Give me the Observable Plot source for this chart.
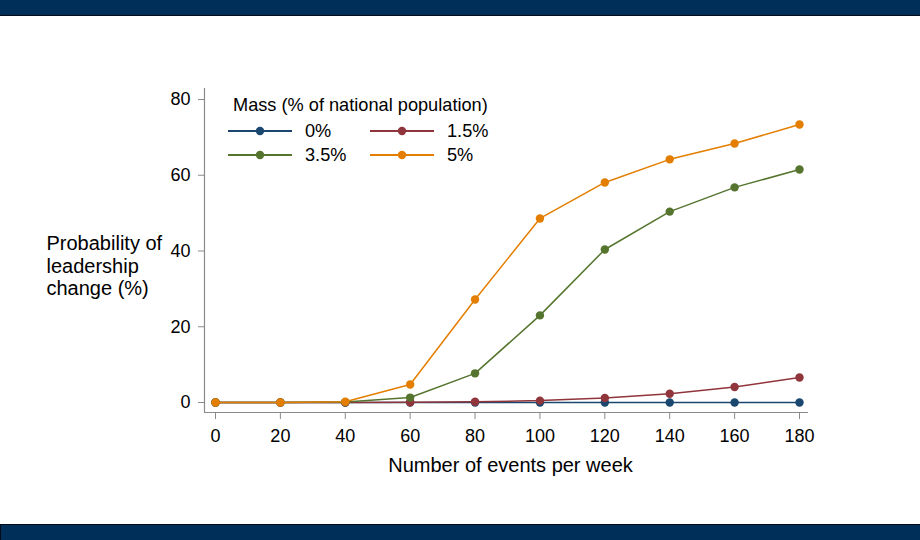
<!DOCTYPE html>
<html>
<head>
<meta charset="utf-8">
<script src="https://cdn.jsdelivr.net/npm/d3@7"></script>
<script src="https://cdn.jsdelivr.net/npm/@observablehq/plot@0.6"></script>
<style>
  html, body { margin: 0; padding: 0; background: #fff; }
  body { width: 920px; height: 540px; position: relative; overflow: hidden; font-family: "Liberation Sans", Arial, sans-serif; }
  .bar-top { position: absolute; left: 0; top: 0; width: 920px; height: 15px; background: #00305a; border-bottom: 1px solid #000c1a; }
  .bar-bottom { position: absolute; left: 0; top: 524px; width: 919px; height: 16px; background: #00305a; border-top: 1px solid #000c1a; border-left: 1px solid #000c1a; }
  #chart { position: absolute; left: 0; top: 0; }
</style>
</head>
<body>
<div class="bar-top"></div>
<div class="bar-bottom"></div>
<div id="chart"></div>
<script>
// ---- data ----
const events = [0, 20, 40, 60, 80, 100, 120, 140, 160, 180];
const seriesNames = ["0%", "1.5%", "3.5%", "5%"];
const seriesColors = ["#1a476f", "#90353b", "#55752f", "#e37e00"];
const mass0  = [0, 0, 0, 0, 0, 0, 0, 0, 0, 0];
const mass15 = [0, 0, 0, 0.05, 0.2, 0.5, 1.2, 2.3, 4.1, 6.6];
const mass35 = [0, 0, 0.1, 1.3, 7.7, 23.0, 40.4, 50.4, 56.8, 61.5];
const mass5  = [0, 0, 0.2, 4.75, 27.2, 48.6, 58.1, 64.2, 68.4, 73.4];
const xTicks = [0, 20, 40, 60, 80, 100, 120, 140, 160, 180];
const yTicks = [0, 20, 40, 60, 80];
const legendTitle = "Mass (% of national population)";
const xTitle = "Number of events per week";
const yTitle = "Probability of\nleadership\nchange (%)";

const allSeries = [mass0, mass15, mass35, mass5];
const rows = [];
allSeries.forEach((vals, si) => {
  vals.forEach((v, i) => rows.push({ series: seriesNames[si], x: events[i], y: v }));
});

const W = 920, H = 540;
const mL = 204, mR = 112, mT = 88, mB = 128;
const axisGray = "#8a8a8a";
const font = "\"Liberation Sans\", Arial, sans-serif";

const marks = [
  Plot.ruleY([0], { dy: 10, stroke: axisGray, strokeWidth: 1.2 }),
  Plot.ruleX([0], { dx: -11, stroke: axisGray, strokeWidth: 1.2 }),
  Plot.axisY({ ticks: yTicks, tickSize: 6, tickPadding: 8, stroke: axisGray, fill: "#000", fontSize: 18, label: null }),
  Plot.axisX({ ticks: xTicks, tickSize: 7, tickPadding: 10, stroke: axisGray, fill: "#000", fontSize: 18, label: null }),
];
seriesNames.forEach((name, si) => {
  const d = rows.filter(r => r.series === name);
  marks.push(Plot.line(d, { x: "x", y: "y", stroke: seriesColors[si], strokeWidth: 1.5 }));
  marks.push(Plot.dot(d, { x: "x", y: "y", r: 4.2, fill: seriesColors[si], stroke: "none" }));
});
marks.push(Plot.text([xTitle], { frameAnchor: "bottom", lineAnchor: "middle", dx: 4, dy: 53, fontSize: 20, fill: "#000" }));
marks.push(Plot.text([yTitle], { frameAnchor: "left", textAnchor: "start", lineAnchor: "middle", dx: -158, dy: 15, fontSize: 20, lineHeight: 1.13, fill: "#000" }));

const chart = Plot.plot({
  width: W, height: H,
  marginLeft: mL, marginRight: mR, marginTop: mT, marginBottom: mB,
  style: { fontFamily: font, background: "transparent", overflow: "visible" },
  x: { domain: [0, 180], insetLeft: 11, insetRight: 9 },
  y: { domain: [0, 80], insetTop: 11, insetBottom: 10 },
  marks
});
document.getElementById("chart").appendChild(chart);

// ---- legend ----
const svg = d3.select(chart);
const lg = svg.append("g").attr("font-family", font).attr("font-size", 18.2).attr("fill", "#000").attr("text-anchor", "start");
lg.append("text").attr("x", 233).attr("y", 105).attr("dy", "0.35em").text(legendTitle);
const cols = [228, 370];
const rowsY = [131, 155];
seriesNames.forEach((name, i) => {
  const cx = cols[i % 2], cy = rowsY[Math.floor(i / 2)];
  lg.append("line").attr("x1", cx).attr("x2", cx + 64).attr("y1", cy).attr("y2", cy)
    .attr("stroke", seriesColors[i]).attr("stroke-width", 1.8);
  lg.append("circle").attr("cx", cx + 32).attr("cy", cy).attr("r", 4.2).attr("fill", seriesColors[i]);
  lg.append("text").attr("x", cx + 77).attr("y", cy).attr("dy", "0.35em").text(name);
});
</script>
</body>
</html>
